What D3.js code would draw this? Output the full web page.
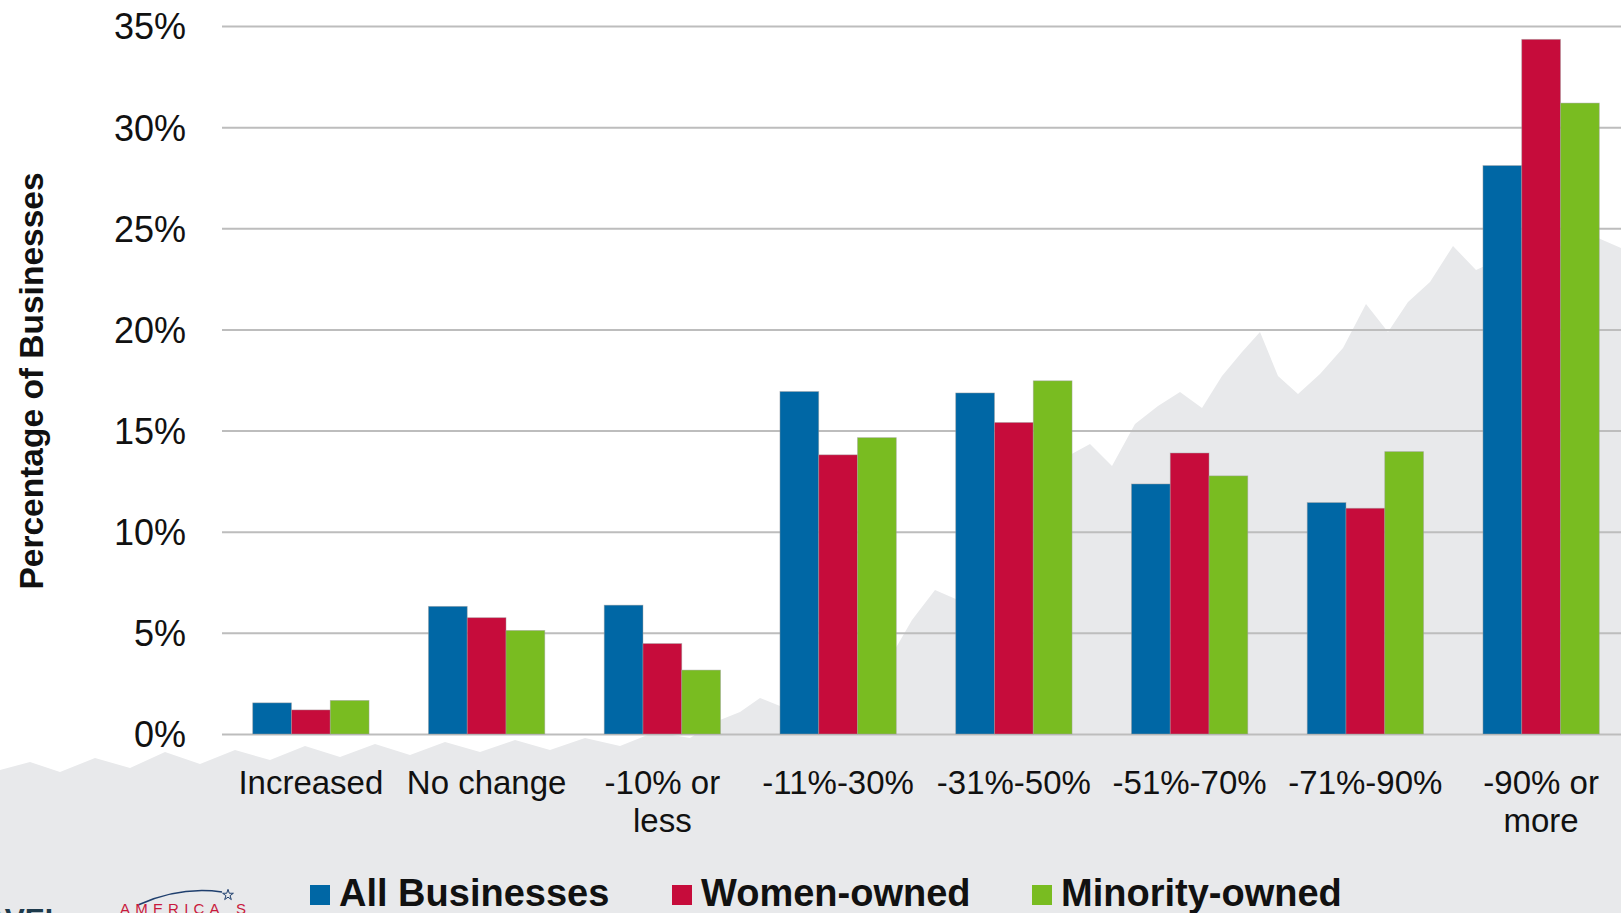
<!DOCTYPE html>
<html>
<head>
<meta charset="utf-8">
<script src="https://cdn.jsdelivr.net/npm/d3@7"></script>
<style>
  html, body { margin: 0; padding: 0; background: #ffffff; overflow: hidden; }
  svg { display: block; font-family: "Liberation Sans", Arial, sans-serif; }
</style>
</head>
<body>
<svg id="chart" width="1621" height="913"></svg>
<script>
// ---- data ----
const categories = ["Increased", "No change", "-10% or\nless", "-11%-30%", "-31%-50%", "-51%-70%", "-71%-90%", "-90% or\nmore"];
const seriesNames = ["All Businesses", "Women-owned", "Minority-owned"];
const allBusinesses = [1.54, 6.31, 6.37, 16.93, 16.86, 12.36, 11.44, 28.10];
const womenOwned    = [1.19, 5.75, 4.47, 13.80, 15.40, 13.89, 11.16, 34.34];
const minorityOwned = [1.66, 5.12, 3.16, 14.65, 17.46, 12.76, 13.96, 31.19];
const yTicks = [0, 5, 10, 15, 20, 25, 30, 35];
const colors = ["#0067a5", "#c60c3b", "#79bc21"];
const seriesValues = [allBusinesses, womenOwned, minorityOwned];

const svg = d3.select("#chart");
const W = 1621, H = 913;

// ---- background (decorative tree silhouette) ----
const silhouette = [[0,770],[30,762],[60,772],[95,758],[130,768],[165,752],[200,764],[235,750],[270,760],[305,746],[340,757],[375,744],[410,755],[445,742],[480,752],[515,740],[550,750],[585,738],[620,746],[655,732],[690,738],[715,722],[740,712],[760,698],[780,706],[800,676],[822,690],[845,660],[868,642],[890,658],[912,620],[935,590],[958,600],[980,520],[1000,482],[1022,466],[1045,488],[1068,456],[1090,444],[1112,466],[1135,424],[1158,406],[1180,392],[1202,408],[1222,376],[1242,352],[1260,332],[1278,376],[1298,394],[1320,374],[1343,348],[1366,304],[1388,332],[1408,302],[1430,282],[1453,246],[1476,270],[1498,260],[1523,240],[1548,234],[1573,258],[1598,238],[1621,248],[1621,913],[0,913]];
svg.append("path")
  .attr("d", d3.line()(silhouette) + "Z")
  .attr("fill", "#e8e9eb");

// ---- scales ----
const x0 = d3.scaleBand().domain(d3.range(categories.length)).range([223, 223 + 175.75 * 8]).paddingInner(0).paddingOuter(0);
const groupW = x0.bandwidth() * 0.662;
const x1 = d3.scaleBand().domain(d3.range(seriesNames.length)).range([0, groupW]).padding(0);
const y = d3.scaleLinear().domain([0, 35]).range([734, 26]);

// ---- gridlines ----
const yAxis = d3.axisLeft(y).tickValues(yTicks).tickSize(-(W - 222)).tickFormat(d => d + "%").tickPadding(36);
const gy = svg.append("g").attr("transform", "translate(222,0)").call(yAxis);
gy.select(".domain").remove();
gy.selectAll(".tick line").attr("stroke", "#bdbdbd").attr("stroke-width", 2);
gy.selectAll(".tick text")
  .attr("font-size", 36)
  .attr("fill", "#111")
  .attr("font-family", "'Liberation Sans', Arial, sans-serif")
  .attr("dy", "0.36em");

// ---- bars ----
const groups = svg.append("g").selectAll("g")
  .data(categories.map((c, i) => i))
  .join("g")
  .attr("transform", i => `translate(${x0(i) + (x0.bandwidth() - groupW) / 2},0)`);

groups.selectAll("rect")
  .data(i => seriesValues.map((vals, s) => ({ s, v: vals[i] })))
  .join("rect")
  .attr("x", d => x1(d.s))
  .attr("width", x1.bandwidth())
  .attr("y", d => y(d.v))
  .attr("height", d => y(0) - y(d.v))
  .attr("fill", d => colors[d.s])
  .attr("stroke", "rgba(160,160,160,0.55)")
  .attr("stroke-width", 0.8);

// ---- category labels ----
const xl = svg.append("g");
categories.forEach((c, i) => {
  const lines = c.split("\n");
  const t = xl.append("text")
    .attr("x", x0(i) + x0.bandwidth() / 2)
    .attr("y", 794)
    .attr("text-anchor", "middle")
    .attr("font-size", 33)
    .attr("fill", "#111");
  lines.forEach((ln, k) => {
    t.append("tspan").attr("x", x0(i) + x0.bandwidth() / 2).attr("dy", k === 0 ? 0 : 38.3).text(ln);
  });
});

// ---- y axis title ----
svg.append("text")
  .attr("transform", "translate(43,381) rotate(-90)")
  .attr("text-anchor", "middle")
  .attr("font-size", 33.5)
  .attr("font-weight", "bold")
  .attr("fill", "#111")
  .text("Percentage of Businesses");

// ---- legend ----
const legendX = [310, 672, 1032];
const lg = svg.append("g");
seriesNames.forEach((n, i) => {
  lg.append("rect").attr("x", legendX[i]).attr("y", 885).attr("width", 20).attr("height", 20).attr("fill", colors[i]);
  lg.append("text").attr("x", legendX[i] + 29).attr("y", 906)
    .attr("font-size", 38).attr("font-weight", "bold").attr("fill", "#111").text(n);
});

// ---- logo fragments (bottom-left) ----
svg.append("text").attr("x", 63).attr("y", 929).attr("text-anchor", "end")
  .attr("font-size", 30).attr("font-weight", "bold").attr("fill", "#1d3a4c").text("TRAVEL");
svg.append("path")
  .attr("d", "M138,905 Q180,886 222,892")
  .attr("fill", "none").attr("stroke", "#1f3f6e").attr("stroke-width", 1.5);
svg.append("path")
  .attr("d", d3.symbol().type(d3.symbolStar).size(36)())
  .attr("transform", "translate(228,895)")
  .attr("fill", "none").attr("stroke", "#1f3f6e").attr("stroke-width", 1);
svg.append("text").attr("x", 120).attr("y", 914)
  .attr("font-size", 15).attr("letter-spacing", 5.2).attr("fill", "#c8193c").text("AMERICA");
svg.append("text").attr("x", 236).attr("y", 914)
  .attr("font-size", 15).attr("fill", "#c8193c").text("S");
</script>
</body>
</html>
